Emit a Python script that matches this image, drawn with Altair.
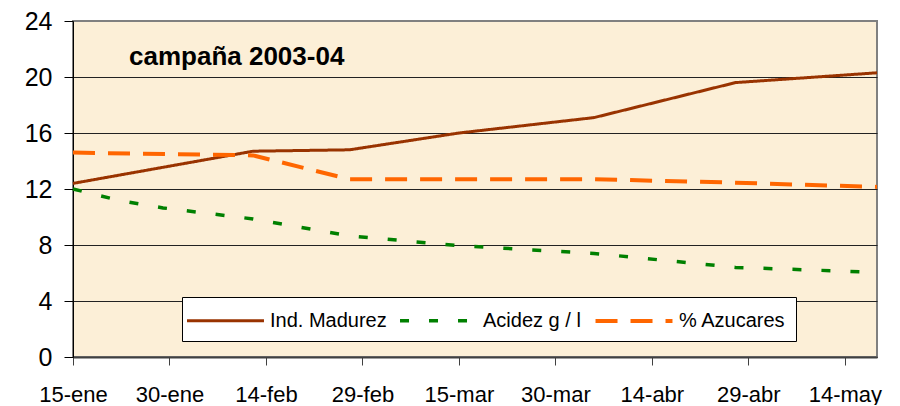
import altair as alt
import pandas as pd

# --- data ---
series_names = ["Ind. Madurez", "Acidez g / l", "% Azucares"]

fechas_madurez = ["2004-01-15", "2004-02-12", "2004-02-27", "2004-03-15",
                  "2004-04-05", "2004-04-27", "2004-05-19"]
madurez = [12.4, 14.7, 14.8, 16.0, 17.1, 19.6, 20.3]

fechas_acidez = ["2004-01-15", "2004-01-22", "2004-01-29", "2004-02-12",
                 "2004-02-27", "2004-03-15", "2004-04-05", "2004-04-27",
                 "2004-05-19"]
acidez = [12.0, 11.2, 10.65, 9.86, 8.65, 7.95, 7.4, 6.4, 6.05]

fechas_azucares = ["2004-01-15", "2004-02-12", "2004-02-27", "2004-03-15",
                   "2004-04-05", "2004-04-27", "2004-05-19"]
azucares = [14.6, 14.4, 12.7, 12.7, 12.7, 12.45, 12.15]

tick_days = [0, 15, 30, 45, 60, 75, 90, 105, 120]
tick_labels = ["15-ene", "30-ene", "14-feb", "29-feb", "15-mar",
               "30-mar", "14-abr", "29-abr", "14-may"]
y_ticks = [0, 4, 8, 12, 16, 20, 24]
titulo = "campaña 2003-04"

start = pd.Timestamp("2004-01-15")

def frame(name, fechas, vals):
    d = pd.DataFrame({"fecha": pd.to_datetime(fechas), "valor": vals})
    d["dia"] = (d["fecha"] - start).dt.days
    d["serie"] = name
    return d[["dia", "valor", "serie"]]

df = pd.concat([
    frame(series_names[0], fechas_madurez, madurez),
    frame(series_names[1], fechas_acidez, acidez),
    frame(series_names[2], fechas_azucares, azucares),
], ignore_index=True)

label_expr = "{" + ",".join(f"'{d}':'{l}'" for d, l in zip(tick_days, tick_labels)) + "}[datum.value]"

FONT = "Liberation Sans"

x = alt.X("dia:Q",
          scale=alt.Scale(domain=[0, 125], nice=False, zero=False),
          axis=alt.Axis(values=tick_days, labelExpr=label_expr, title=None,
                        grid=False, tickSize=8, tickColor="#404040",
                        domainColor="#404040", domainWidth=2,
                        labelFont=FONT, labelFontSize=22, labelColor="black",
                        labelPadding=19, labelFlush=False, labelOverlap=False))
y = alt.Y("valor:Q",
          scale=alt.Scale(domain=[0, 24], nice=False),
          axis=alt.Axis(values=y_ticks, title=None, tickSize=9,
                        tickColor="black", domainColor="black", domainWidth=1,
                        gridColor={"condition": {"test": "datum.value === 24", "value": "#808080"},
                                   "value": "#222222"},
                        gridWidth=1,
                        labelFont=FONT, labelFontSize=25, labelColor="black",
                        labelPadding=12))

legend = alt.Legend(orient="none", legendX=109, legendY=276, direction="horizontal",
                    title=None, fillColor="white", strokeColor="black",
                    padding=10, symbolType="M-3.3,0H3.3", symbolSize=544,
                    symbolOffset=20, labelOffset=31,
                    labelFont=FONT, labelFontSize=20, labelColor="black",
                    columnPadding=6, cornerRadius=0)

lines = alt.Chart(df).mark_line(strokeCap="butt").encode(
    x=x, y=y,
    color=alt.Color("serie:N", scale=alt.Scale(domain=series_names,
                                               range=["#993300", "#008000", "#FF6600"]),
                    legend=legend),
    strokeDash=alt.StrokeDash("serie:N", scale=alt.Scale(domain=series_names,
                                                         range=[[1, 0], [9, 20], [22, 13]]),
                              legend=legend),
    strokeWidth=alt.StrokeWidth("serie:N", scale=alt.Scale(domain=series_names,
                                                           range=[3, 4, 4]),
                                legend=legend),
    order=alt.Order("dia:Q"),
    detail="serie:N",
)

title_layer = alt.Chart(pd.DataFrame({"t": [titulo]})).mark_text(
    font=FONT, fontWeight="bold", fontSize=26, align="left",
    baseline="alphabetic", color="black"
).encode(text="t:N", x=alt.value(56), y=alt.value(44))

chart = alt.layer(lines, title_layer).properties(
    width=804, height=336,
    autosize=alt.AutoSizeParams(type="none"),
    padding={"left": 65, "top": 13, "right": 15, "bottom": 48},
    background="white",
).configure_view(
    fill="#FCEFD7", stroke="#808080", strokeWidth=2
)

chart.save("out.html", embed_options={"renderer": "svg", "actions": False})
